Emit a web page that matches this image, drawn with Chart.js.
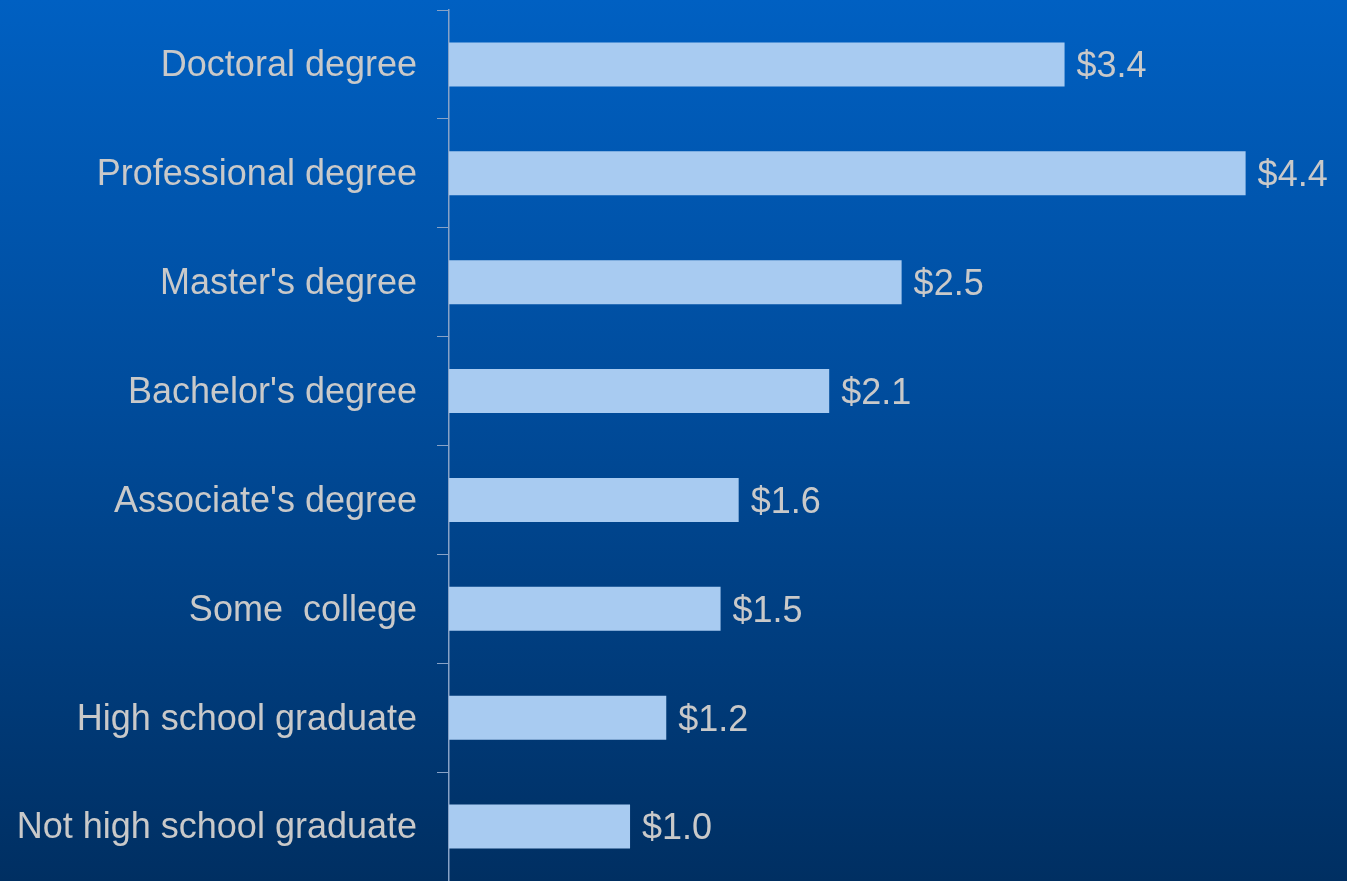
<!DOCTYPE html>
<html>
<head>
<meta charset="utf-8">
<script src="https://cdn.jsdelivr.net/npm/chart.js@4/dist/chart.umd.min.js"></script>
<style>
  html, body {
    margin: 0;
    padding: 0;
    width: 1347px;
    height: 881px;
    overflow: hidden;
  }
  body {
    background: linear-gradient(to bottom, #0060c2 0%, #004c9c 45%, #002f62 100%);
  }
  #wrap {
    position: relative;
    width: 1347px;
    height: 881px;
  }
</style>
</head>
<body>
<div id="wrap"><canvas id="chart"></canvas></div>
<script>
// Median lifetime earnings (millions) by education level.
const categories = [
  "Doctoral degree",
  "Professional degree",
  "Master's degree",
  "Bachelor's degree",
  "Associate's degree",
  "Some  college",
  "High school graduate",
  "Not high school graduate",
];
const earnings = [3.4, 4.4, 2.5, 2.1, 1.6, 1.5, 1.2, 1.0];

const textColor = "#c9c9c9";
const fontFamily = "'Liberation Sans', Arial, sans-serif";
const fontSize = 36;

// Writes "$x.x" just past the end of each bar.
const valueLabels = {
  id: "valueLabels",
  afterDatasetsDraw(chart) {
    const ctx = chart.ctx;
    const meta = chart.getDatasetMeta(0);
    ctx.save();
    ctx.fillStyle = textColor;
    ctx.font = fontSize + "px " + fontFamily;
    ctx.textAlign = "left";
    ctx.textBaseline = "middle";
    meta.data.forEach((bar, i) => {
      const value = chart.data.datasets[0].data[i];
      ctx.fillText("$" + value.toFixed(1), bar.x + 12, bar.y + 3);
    });
    ctx.restore();
  },
};

const ctx = document.getElementById("chart").getContext("2d");
new Chart(ctx, {
  type: "bar",
  data: {
    labels: categories,
    datasets: [
      {
        data: earnings,
        backgroundColor: "#a8cbf1",
        borderWidth: 0,
        barPercentage: 0.404,
        categoryPercentage: 1.0,
      },
    ],
  },
  options: {
    indexAxis: "y",
    animation: false,
    responsive: true,
    maintainAspectRatio: false,
    layout: {
      padding: { top: 10, right: 0, bottom: 0, left: 0 },
    },
    plugins: {
      legend: { display: false },
      tooltip: { enabled: false },
    },
    scales: {
      x: {
        display: false,
        min: 0,
        max: 4.96,
      },
      y: {
        // Fixed axis width; no extra room above/below for label halves.
        afterFit(scale) {
          scale.width = 449;
          scale.paddingTop = 0;
          scale.paddingBottom = 0;
        },
        grid: {
          drawOnChartArea: false,
          tickLength: 12,
          tickColor: "#88a2c6",
          offset: true,
        },
        border: {
          color: "#88a2c6",
          width: 1.5,
        },
        ticks: {
          color: textColor,
          padding: 20,
          labelOffset: 2,
          font: { family: fontFamily, size: fontSize },
        },
      },
    },
  },
  plugins: [valueLabels],
});
</script>
</body>
</html>
